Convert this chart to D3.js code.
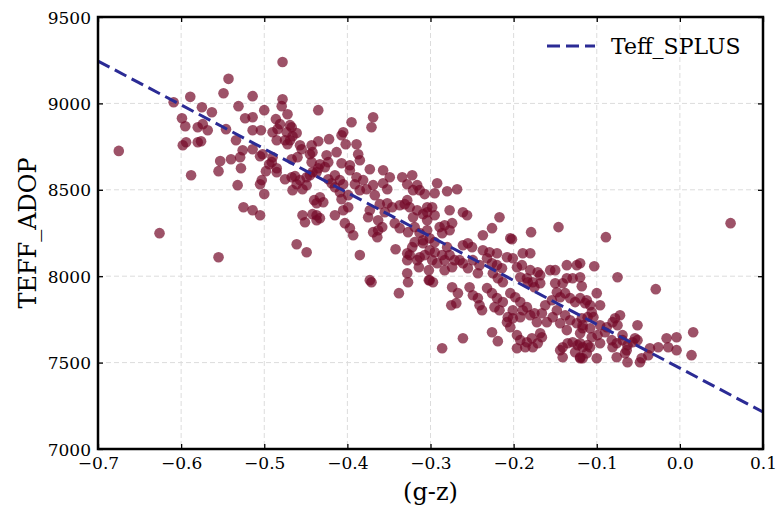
<!DOCTYPE html>
<html><head><meta charset="utf-8">
<script src="https://cdn.jsdelivr.net/npm/d3@7"></script>
<style>body{margin:0;background:#fff}svg{display:block}text{font-family:"DejaVu Serif",serif}</style>
</head><body><svg id="c" width="776" height="507"></svg>
<script>
// ---- data ----
const xTicks = [-0.7,-0.6,-0.5,-0.4,-0.3,-0.2,-0.1,0.0,0.1];
const yTicks = [7000,7500,8000,8500,9000,9500];
const xLabel = "(g-z)";
const yLabel = "TEFF_ADOP";
const lineName = "Teff_SPLUS";
const lineGz = [-0.7, 0.1];
const lineTeff = [9245, 7214];
const samples = [
[-0.675,8725],[-0.543,9142],[-0.609,9007],[-0.589,9038],[-0.575,8978],[-0.563,8949],[-0.599,8914],[-0.595,8868],[-0.580,8862],[-0.574,8880],[-0.568,8845],[-0.549,9059],[-0.531,8984],[-0.514,9042],[-0.500,8961],[-0.523,8914],[-0.514,8920],[-0.546,8851],[-0.514,8845],[-0.504,8845],[-0.534,8787],[-0.594,8775],[-0.598,8758],[-0.580,8775],[-0.576,8781],[-0.526,8729],[-0.514,8735],[-0.540,8677],[-0.529,8689],[-0.505,8694],[-0.553,8666],[-0.528,8625],[-0.555,8608],[-0.498,8608],[-0.588,8584],[-0.503,8556],[-0.532,8527],[-0.500,8475],[-0.525,8399],[-0.514,8382],[-0.505,8353],[-0.626,8249],[-0.555,8110],
[-0.478,9240],[-0.478,9024],[-0.479,8984],[-0.435,8961],[-0.472,8937],[-0.486,8909],[-0.481,8880],[-0.484,8851],[-0.467,8862],[-0.490,8833],[-0.473,8833],[-0.461,8828],[-0.466,8810],[-0.469,8787],[-0.485,8787],[-0.472,8764],[-0.457,8758],[-0.455,8735],[-0.443,8758],[-0.435,8781],[-0.422,8793],[-0.405,8833],[-0.407,8816],[-0.395,8891],[-0.369,8920],[-0.371,8862],[-0.402,8764],[-0.389,8764],[-0.413,8718],[-0.425,8700],[-0.423,8660],[-0.502,8706],[-0.490,8689],[-0.491,8660],[-0.494,8648],[-0.445,8706],[-0.442,8718],[-0.467,8677],[-0.460,8689],[-0.407,8654],[-0.397,8642],[-0.387,8706],[-0.385,8671],[-0.373,8619],[-0.357,8613],[-0.433,8648],[-0.427,8631],[-0.437,8602],[-0.442,8602],[-0.485,8602],[-0.475,8561],[-0.505,8532],[-0.463,8579],[-0.461,8532],[-0.466,8498],[-0.449,8527],[-0.454,8503],[-0.423,8561],[-0.409,8556],[-0.405,8532],[-0.415,8515],[-0.397,8613],[-0.389,8573],[-0.391,8532],[-0.381,8556],[-0.377,8503],[-0.385,8498],[-0.369,8527],[-0.367,8469],[-0.349,8573],[-0.334,8573],[-0.322,8584],[-0.352,8503],[-0.328,8532],[-0.316,8527],[-0.313,8498],[-0.307,8475],[-0.440,8440],[-0.433,8457],[-0.429,8428],[-0.409,8486],[-0.399,8469],[-0.407,8446],[-0.415,8353],[-0.405,8382],[-0.399,8399],[-0.373,8382],[-0.361,8417],[-0.355,8370],[-0.346,8399],[-0.337,8411],[-0.331,8417],[-0.325,8399],[-0.316,8382],[-0.309,8359],[-0.454,8353],[-0.442,8359],[-0.437,8353],
[-0.357,8538],[-0.375,8341],[-0.363,8324],[-0.352,8422],[-0.328,8440],[-0.321,8498],[-0.304,8399],[-0.304,8324],[-0.321,8341],[-0.319,8284],[-0.327,8255],[-0.313,8249],[-0.343,8307],[-0.337,8278],[-0.369,8255],[-0.363,8266],[-0.358,8284],[-0.364,8226],[-0.393,8237],[-0.397,8278],[-0.403,8307],[-0.451,8312],[-0.437,8324],[-0.433,8336],[-0.437,8422],[-0.415,8584],[-0.419,8538],[-0.445,8584],[-0.435,8625],[-0.449,8573],[-0.467,8573],[-0.457,8556],[-0.485,8625],[-0.461,8185],[-0.449,8139],[-0.385,8122],[-0.342,8156],[-0.328,8093],[-0.325,8122],[-0.322,8168],[-0.319,8197],[-0.309,8191],[-0.307,8122],[-0.314,8052],[-0.302,8035],[-0.328,8017],[-0.327,7965],[-0.373,7977],[-0.371,7965],[-0.338,7902],[-0.443,8660],[-0.469,8874],[-0.475,8787],
[-0.328,8133],[-0.316,8093],[-0.302,7977],
[-0.292,8538],[-0.295,8480],[-0.280,8492],[-0.268,8503],[-0.298,8399],[-0.304,8370],[-0.295,8353],[-0.277,8382],[-0.261,8370],[-0.256,8353],[-0.217,8341],[-0.226,8278],[-0.237,8237],[-0.179,8255],[-0.146,8284],[-0.202,8214],[-0.204,8220],[-0.289,8284],[-0.283,8295],[-0.277,8266],[-0.274,8307],[-0.286,8249],[-0.304,8266],[-0.309,8208],[-0.301,8220],[-0.295,8197],[-0.261,8179],[-0.255,8191],[-0.250,8168],[-0.237,8150],[-0.229,8139],[-0.220,8133],[-0.232,8104],[-0.280,8168],[-0.277,8122],[-0.271,8093],[-0.265,8093],[-0.274,8052],[-0.283,8093],[-0.286,8122],[-0.295,8139],[-0.301,8150],[-0.298,8093],[-0.292,8075],[-0.283,8035],[-0.313,8110],[-0.297,7965],[-0.301,7977],[-0.261,8075],[-0.255,8046],[-0.249,8093],[-0.241,8064],[-0.243,8017],[-0.226,8075],[-0.220,8064],[-0.214,8046],[-0.225,8017],[-0.219,7988],[-0.213,7965],[-0.208,8110],[-0.201,8104],[-0.189,8133],[-0.180,8133],[-0.190,8064],[-0.196,8052],[-0.192,7994],[-0.184,7988],[-0.183,7965],[-0.177,7965],[-0.175,7936],[-0.168,7959],[-0.171,8023],[-0.180,8035],[-0.168,8006],[-0.156,8035],[-0.150,8035],[-0.136,8064],[-0.124,8064],[-0.129,7988],[-0.120,7994],[-0.136,7988],[-0.141,7959],[-0.150,7959],[-0.148,7907],[-0.144,7878],[-0.138,7902],[-0.132,7873],[-0.126,7850],[-0.120,7873],[-0.114,7844],[-0.112,7861],[-0.111,7763],[-0.274,7936],[-0.267,7902],[-0.275,7832],[-0.269,7844],[-0.253,7936],[-0.249,7890],[-0.243,7873],[-0.241,7832],[-0.238,7803],[-0.232,7931],[-0.226,7902],[-0.220,7873],[-0.223,7821],[-0.217,7803],[-0.213,7850],[-0.204,7902],[-0.198,7878],[-0.192,7850],[-0.201,7803],[-0.207,7763],[-0.192,7763],[-0.189,7803],[-0.184,7821],[-0.180,7774],[-0.175,7786],[-0.172,7734],[-0.166,7786],[-0.162,7832],[-0.154,7861],[-0.148,7803],[-0.153,7763],[-0.160,7734],[-0.138,7774],[-0.132,7745],[-0.144,7728],[-0.136,7688],[-0.124,7728],[-0.117,7699],[-0.118,7757],[-0.226,7676],[-0.219,7624],[-0.261,7641],[-0.286,7583],[-0.196,7659],[-0.192,7630],[-0.184,7618],[-0.178,7641],[-0.171,7612],[-0.177,7589],[-0.186,7589],[-0.166,7647],[-0.168,7670],[-0.141,7589],[-0.135,7612],[-0.129,7618],[-0.123,7601],[-0.117,7589],[-0.204,7705],[-0.208,7734],[-0.201,7757],
[-0.196,7583],[-0.144,7572],[-0.141,7531],[-0.126,7560],[-0.120,7531],[-0.117,7525],[-0.112,7554],[-0.111,7601],
[0.061,8307],[-0.089,8226],[-0.103,8058],[-0.075,7994],[-0.120,8075],[-0.118,7942],[-0.029,7925],[-0.100,7902],[-0.108,7832],[-0.096,7832],[-0.106,7792],[-0.072,7774],[-0.078,7757],[-0.081,7734],[-0.075,7716],[-0.088,7705],[-0.096,7716],[-0.090,7676],[-0.104,7763],[-0.117,7716],[-0.108,7699],[-0.120,7670],[-0.120,7612],[-0.106,7647],[-0.108,7589],[-0.096,7612],[-0.099,7659],[-0.082,7630],[-0.081,7589],[-0.076,7612],[-0.069,7659],[-0.069,7630],[-0.051,7716],[-0.054,7641],[-0.051,7630],[-0.057,7618],[-0.063,7601],[-0.064,7572],[-0.066,7554],[-0.120,7525],[-0.100,7525],[-0.076,7531],[-0.063,7502],[-0.048,7502],[-0.046,7525],[-0.038,7543],[-0.036,7583],[-0.026,7589],[-0.016,7641],[-0.014,7589],[-0.004,7647],[-0.004,7572],[0.016,7676],[0.014,7543]
];

// ---- drawing ----
const svg = d3.select("#c");
const L = 98, R = 763, T = 17, B = 449;
const x = d3.scaleLinear().domain([-0.7, 0.1]).range([L, R]);
const y = d3.scaleLinear().domain([7000, 9500]).range([B, T]);

// grid
const grid = svg.append("g").attr("stroke", "#dcdcdc").attr("stroke-width", 1).attr("stroke-dasharray", "5,3");
grid.selectAll(".gx").data(xTicks).join("line")
  .attr("x1", d => x(d)).attr("x2", d => x(d)).attr("y1", T).attr("y2", B);
grid.selectAll(".gy").data(yTicks).join("line")
  .attr("y1", d => y(d)).attr("y2", d => y(d)).attr("x1", L).attr("x2", R);

// points
svg.append("g").selectAll("circle").data(samples).join("circle")
  .attr("cx", d => x(d[0])).attr("cy", d => y(d[1])).attr("r", 5.3)
  .attr("fill", "rgb(115,8,40)").attr("fill-opacity", 0.7);

// line
const lineData = lineGz.map((g, i) => [g, lineTeff[i]]);
svg.append("path").datum(lineData)
  .attr("d", d3.line().x(d => x(d[0])).y(d => y(d[1])))
  .attr("fill", "none").attr("stroke", "#2b2b95").attr("stroke-width", 3)
  .attr("stroke-dasharray", "13,6");

// axes
const fmtX = d3.format(".1f");
const axB = svg.append("g").attr("transform", `translate(0,${B})`)
  .call(d3.axisBottom(x).tickValues(xTicks).tickFormat(fmtX).tickSizeInner(-5).tickSizeOuter(0).tickPadding(8));
const axL = svg.append("g").attr("transform", `translate(${L},0)`)
  .call(d3.axisLeft(y).tickValues(yTicks).tickFormat(d3.format("d")).tickSizeInner(-5).tickSizeOuter(0).tickPadding(7));
const axT = svg.append("g").attr("transform", `translate(0,${T})`)
  .call(d3.axisTop(x).tickValues(xTicks).tickFormat("").tickSizeInner(-5).tickSizeOuter(0));
const axR = svg.append("g").attr("transform", `translate(${R},0)`)
  .call(d3.axisRight(y).tickValues(yTicks).tickFormat("").tickSizeInner(-5).tickSizeOuter(0));
[axB, axL, axT, axR].forEach(a => {
  a.select(".domain").remove();
  a.selectAll(".tick line").attr("stroke", "#000").attr("stroke-width", 1.3);
  a.selectAll("text").attr("font-family", "DejaVu Serif").attr("font-size", 17).attr("fill", "#000");
});
axL.selectAll("text").attr("dy", "0.36em");

// frame
svg.append("rect").attr("x", L).attr("y", T).attr("width", R - L).attr("height", B - T)
  .attr("fill", "none").attr("stroke", "#000").attr("stroke-width", 2.5);

// axis labels
svg.append("text").attr("x", (L + R) / 2).attr("y", 500).attr("text-anchor", "middle")
  .attr("font-size", 24).text(xLabel);
svg.append("text").attr("transform", `translate(36,${(T + B) / 2}) rotate(-90)`).attr("text-anchor", "middle")
  .attr("font-size", 24).text(yLabel);

// legend
svg.append("line").attr("x1", 547).attr("x2", 595).attr("y1", 46).attr("y2", 46)
  .attr("stroke", "#2b2b95").attr("stroke-width", 3).attr("stroke-dasharray", "13,6");
svg.append("text").attr("x", 611).attr("y", 54).attr("font-size", 22).text(lineName);
</script></body></html>
